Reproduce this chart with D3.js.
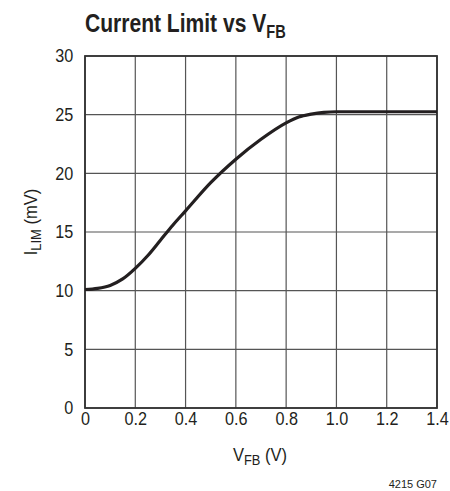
<!DOCTYPE html>
<html>
<head>
<meta charset="utf-8">
<script src="https://cdn.jsdelivr.net/npm/d3@7"></script>
<style>
  body { margin:0; background:#fff; }
  svg text { font-family:"Liberation Sans",Arial,sans-serif; fill:#231f20; }
</style>
</head>
<body>
<svg id="chart" width="450" height="491"></svg>
<script>
// data: V_FB (V) vs I_LIM (mV)
var vfb  = [0, 0.05, 0.1, 0.15, 0.2, 0.25, 0.3, 0.35, 0.4, 0.5, 0.6, 0.7, 0.8, 0.85, 0.9, 0.95, 1.0, 1.2, 1.4];
var ilim = [10.1, 10.2, 10.45, 11.0, 11.9, 13.0, 14.3, 15.6, 16.8, 19.2, 21.2, 22.9, 24.3, 24.8, 25.05, 25.2, 25.25, 25.25, 25.25];
var xTicks = [0, 0.2, 0.4, 0.6, 0.8, 1.0, 1.2, 1.4];
var yTicks = [0, 5, 10, 15, 20, 25, 30];

var svg = d3.select("#chart");
var pLeft = 85, pRight = 437, pTop = 56, pBottom = 408;

var x = d3.scaleLinear().domain([0, 1.4]).range([pLeft, pRight]);
var y = d3.scaleLinear().domain([0, 30]).range([pBottom, pTop]);

// grid
svg.append("g").selectAll("line").data(xTicks).enter().append("line")
   .attr("x1", function(d) { return x(d); }).attr("x2", function(d) { return x(d); })
   .attr("y1", pTop).attr("y2", pBottom)
   .attr("stroke", "#555").attr("stroke-width", 1.2);
svg.append("g").selectAll("line").data(yTicks).enter().append("line")
   .attr("x1", pLeft).attr("x2", pRight)
   .attr("y1", function(d) { return y(d); }).attr("y2", function(d) { return y(d); })
   .attr("stroke", "#555").attr("stroke-width", 1.2);

svg.append("rect")
   .attr("x", pLeft).attr("y", pTop)
   .attr("width", pRight-pLeft).attr("height", pBottom-pTop)
   .attr("fill", "none").attr("stroke", "#333").attr("stroke-width", 1.8);

// axes (labels only, lines come from the grid)
var xAxis = d3.axisBottom(x).tickValues(xTicks)
              .tickFormat(function(d) { return d === 0 ? "0" : d3.format(".1f")(d); })
              .tickSize(0).tickPadding(4);
var gx = svg.append("g").attr("transform", "translate(0," + pBottom + ")").call(xAxis);
gx.select(".domain").remove();
gx.attr("font-family", null).attr("font-size", null);
gx.selectAll("text").style("font-size", "18px").attr("fill", "#231f20")
  .attr("transform", "scale(0.9,1)");

var yAxis = d3.axisLeft(y).tickValues(yTicks).tickSize(0).tickPadding(13);
var gy = svg.append("g").attr("transform", "translate(" + pLeft + ",0)").call(yAxis);
gy.select(".domain").remove();
gy.attr("font-family", null).attr("font-size", null);
gy.selectAll("text").style("font-size", "18px").attr("fill", "#231f20")
  .attr("transform", "scale(0.9,1)");

// curve
var pts = vfb.map(function(d, i) { return { x: vfb[i], y: ilim[i] }; });
var line = d3.line()
             .x(function(d) { return x(d.x); })
             .y(function(d) { return y(d.y); })
             .curve(d3.curveMonotoneX);
svg.append("path").attr("d", line(pts))
   .attr("fill", "none").attr("stroke", "#231f20").attr("stroke-width", 3.2)
   .attr("stroke-linejoin", "round");

// title (squeezed sideways, the original face is a condensed one)
var t = svg.append("text").attr("transform", "translate(85,32) scale(0.81,1)")
           .style("font-size", "26px").style("font-weight", "bold");
t.append("tspan").text("Current Limit vs V");
t.append("tspan").text("FB").attr("dy", 6).style("font-size", "18px");

// x label
var xl = svg.append("text").attr("transform", "translate(260,461) scale(0.92,1)")
            .attr("text-anchor", "middle").style("font-size", "18px");
xl.append("tspan").text("V");
xl.append("tspan").text("FB").attr("dy", 4).style("font-size", "14px");
xl.append("tspan").text(" (V)").attr("dy", -4);

// y label
var yl = svg.append("text").attr("transform", "translate(37,222) rotate(-90) scale(0.92,1)")
            .attr("text-anchor", "middle").style("font-size", "18px");
yl.append("tspan").text("I");
yl.append("tspan").text("LIM").attr("dy", 4).style("font-size", "14px");
yl.append("tspan").text(" (mV)").attr("dy", -4);

svg.append("text").attr("x", 437).attr("y", 488)
   .attr("text-anchor", "end").style("font-size", "11px").text("4215 G07");
</script>
</body>
</html>
